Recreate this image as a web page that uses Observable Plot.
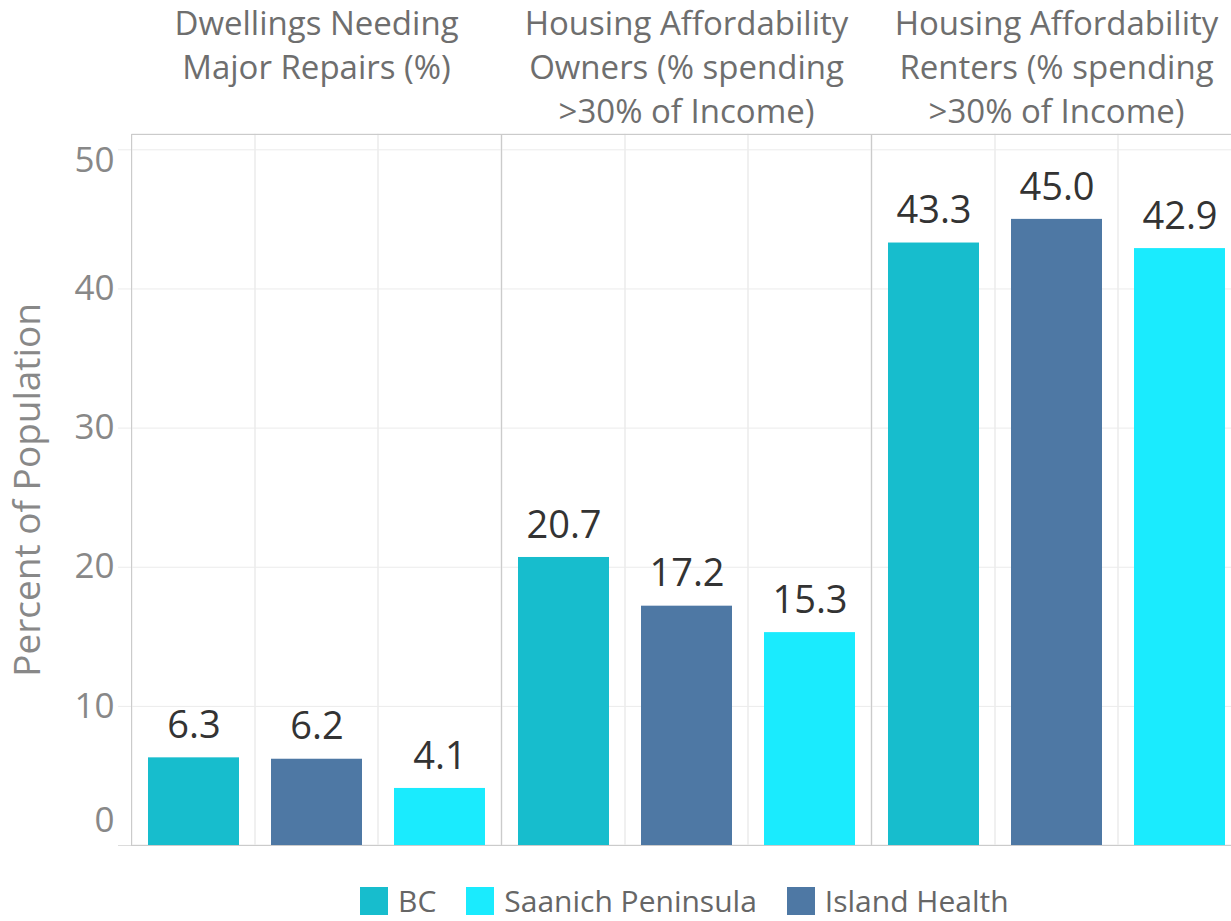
<!DOCTYPE html>
<html>
<head>
<meta charset="utf-8">
<script src="https://cdn.jsdelivr.net/npm/d3@7"></script>
<script src="https://cdn.jsdelivr.net/npm/@observablehq/plot@0.6"></script>
<style>
  html, body { margin: 0; padding: 0; background: #fff; overflow: hidden; }
  body { font-family: "Open Sans", sans-serif; width: 1231px; height: 921px; position: relative; }
  #legend { position: absolute; left: 360px; top: 887px; display: flex; align-items: center; font-size: 30px; color: #666; }
  .item { display: flex; align-items: center; margin-right: 30px; }
  .sw { width: 28px; height: 28px; margin-right: 10px; }
  .lab { line-height: 28px; }
</style>
</head>
<body>
<div id="chart"></div>
<div id="legend"></div>
<script>
// ---- data ----
const metrics = [
  "Dwellings Needing Major Repairs (%)",
  "Housing Affordability Owners (% spending >30% of Income)",
  "Housing Affordability Renters (% spending >30% of Income)"
];
const metricHeaders = [
  "Dwellings Needing\nMajor Repairs (%)",
  "Housing Affordability\nOwners (% spending\n>30% of Income)",
  "Housing Affordability\nRenters (% spending\n>30% of Income)"
];
const regions = ["BC", "Island Health", "Saanich Peninsula"];
const regionColors = ["#17bdcd", "#4e78a4", "#1aebfe"];
const legendOrder = ["BC", "Saanich Peninsula", "Island Health"];
const bcValues = [6.3, 20.7, 43.3];
const islandHealthValues = [6.2, 17.2, 45.0];
const saanichValues = [4.1, 15.3, 42.9];
const yTicks = [0, 10, 20, 30, 40, 50];
const yMax = 51.1;
const yLabel = "Percent of Population";

// ---- table ----
const seriesValues = [bcValues, islandHealthValues, saanichValues];
const rows = [];
metrics.forEach((m, i) => {
  regions.forEach((r, j) => rows.push({metric: m, region: r, value: seriesValues[j][i]}));
});
const bands = [];
metrics.forEach(m => regions.forEach(r => bands.push({metric: m, region: r, top: yMax})));
const headers = metrics.map((m, i) => ({metric: m, text: metricHeaders[i]}));

const tickText = {anchor: "left", tickSize: 0, tickPadding: 17, fill: "#888", fontSize: 35};

const chart = Plot.plot({
  width: 1231,
  height: 870,
  marginTop: 134,
  marginBottom: 25,
  marginLeft: 131,
  marginRight: -10,
  style: {fontFamily: "Open Sans, sans-serif", background: "white", overflow: "visible"},
  fx: {domain: metrics, padding: 0, axis: null},
  x: {domain: regions, padding: 0, axis: null},
  y: {domain: [0, yMax], axis: null},
  color: {domain: regions, range: regionColors},
  marks: [
    Plot.gridY(yTicks.slice(1), {stroke: "#ebebeb", strokeOpacity: 1}),
    Plot.barY(bands, {fx: "metric", x: "region", y1: 0, y2: "top", fill: "none", stroke: "#ebebeb", strokeWidth: 1}),
    Plot.barY(rows, {fx: "metric", x: "region", y: "value", fill: "region", insetLeft: 16, insetRight: 16}),
    Plot.frame({stroke: "#cbcbcb"}),
    Plot.axisY(yTicks.slice(1), {anchor: "left", tickSize: 13, stroke: "#ebebeb", strokeOpacity: 1, tickFormat: () => "", label: null}),
    Plot.axisY([yTicks[0]], {anchor: "left", tickSize: 13, stroke: "#dcdcdc", strokeOpacity: 1, tickFormat: () => "", label: null}),
    Plot.axisY(yTicks.slice(1, -1), {...tickText, label: yLabel, labelAnchor: "center", labelOffset: 118, labelArrow: false}),
    Plot.axisY([yTicks[0]], {...tickText, dy: -25, label: null}),
    Plot.axisY([yTicks[yTicks.length - 1]], {...tickText, dy: 11, label: null}),
    Plot.text(rows, {fx: "metric", x: "region", y: "value", text: d => d.value.toFixed(1), dy: -32, fontSize: 38, fill: "#333"}),
    Plot.text(headers, {fx: "metric", text: "text", frameAnchor: "top", lineAnchor: "top", dy: -131, fontSize: 33, lineHeight: 1.333, fill: "#6e6e6e"})
  ]
});
document.getElementById("chart").appendChild(chart);

// y label styling
chart.querySelectorAll("[aria-label='y-axis label'] text, [aria-label='y-axis label']").forEach(el => {
  el.setAttribute("font-size", 37);
  el.setAttribute("fill", "#888");
});

// legend
const legend = document.getElementById("legend");
legendOrder.forEach(r => {
  const item = document.createElement("div");
  item.className = "item";
  const sw = document.createElement("div");
  sw.className = "sw";
  sw.style.background = regionColors[regions.indexOf(r)];
  const lab = document.createElement("span");
  lab.className = "lab";
  lab.textContent = r;
  item.appendChild(sw);
  item.appendChild(lab);
  legend.appendChild(item);
});
</script>
</body>
</html>
